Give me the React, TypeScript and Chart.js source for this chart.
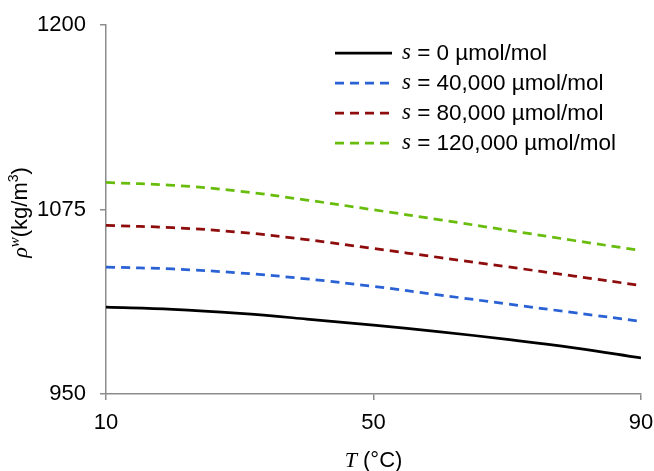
import React, { useEffect, useRef } from "react";
import { Chart, registerables } from "chart.js";

Chart.register(...registerables);

// Temperature grid (°C)
const temperatures = [10, 20, 30, 40, 50, 60, 70, 80, 90];

// Water density ρw (kg/m³) for each salinity s
const densityS0 = [1008.9, 1007.4, 1004.6, 1000.8, 996.6, 992.1, 987.0, 981.3, 974.4];
const densityS40k = [1036.0, 1034.7, 1032.0, 1028.0, 1022.9, 1017.0, 1011.0, 1005.1, 999.2];
const densityS80k = [1064.2, 1062.7, 1059.6, 1054.6, 1048.6, 1042.4, 1036.2, 1029.9, 1023.5];
const densityS120k = [1093.3, 1091.4, 1087.4, 1081.4, 1074.8, 1068.0, 1061.0, 1054.0, 1047.2];

const seriesLabels = ["0", "40,000", "80,000", "120,000"];
const seriesColors = ["#000000", "#2a62d6", "#8e0c0c", "#68bd0c"];
const seriesValues = [densityS0, densityS40k, densityS80k, densityS120k];

const xTicks = [10, 50, 90];
const yTicks = [950, 1075, 1200];

const SANS = "'Liberation Sans', Arial, sans-serif";
const SERIF = "'Liberation Serif', 'Times New Roman', serif";
const AXIS_GREY = "#8c8c8c";
const DASH = [9, 6];

type Piece = { text: string; font: string; dy?: number };

function drawPieces(ctx: CanvasRenderingContext2D, pieces: Piece[], cx: number, cy: number) {
  let total = 0;
  for (const p of pieces) {
    ctx.font = p.font;
    total += ctx.measureText(p.text).width;
  }
  let x = cx - total / 2;
  ctx.textBaseline = "middle";
  ctx.textAlign = "left";
  for (const p of pieces) {
    ctx.font = p.font;
    ctx.fillText(p.text, x, cy + (p.dy || 0));
    x += ctx.measureText(p.text).width;
  }
}

// Axis titles with mixed italic / superscript runs
const axisTitlesPlugin = {
  id: "axisTitles",
  afterDraw(chart: any) {
    const ctx: CanvasRenderingContext2D = chart.ctx;
    const area = chart.chartArea;
    ctx.save();
    ctx.fillStyle = "#000";
    // x title: T (°C)
    drawPieces(
      ctx,
      [
        { text: "T", font: `italic 22px ${SERIF}` },
        { text: " (°C)", font: `22px ${SANS}` },
      ],
      (area.left + area.right) / 2,
      461
    );
    // y title: ρw(kg/m³)
    ctx.translate(21, (area.top + area.bottom) / 2 + 3);
    ctx.rotate(-Math.PI / 2);
    drawPieces(
      ctx,
      [
        { text: "ρ", font: `italic 22px ${SERIF}` },
        { text: "w", font: `italic 15px ${SERIF}`, dy: -6 },
        { text: "(kg/m", font: `22px ${SANS}` },
        { text: "3", font: `14px ${SANS}`, dy: -7 },
        { text: ")", font: `22px ${SANS}` },
      ],
      0,
      0
    );
    ctx.restore();
  },
};

// Legend with line samples drawn in the plot area
const legendPlugin = {
  id: "inlineLegend",
  afterDatasetsDraw(chart: any) {
    const ctx: CanvasRenderingContext2D = chart.ctx;
    ctx.save();
    chart.data.datasets.forEach((ds: any, i: number) => {
      const y = 53 + i * 30;
      ctx.beginPath();
      ctx.strokeStyle = ds.borderColor;
      ctx.lineWidth = ds.borderWidth;
      ctx.setLineDash(ds.borderDash || []);
      ctx.moveTo(335, y);
      ctx.lineTo(392, y);
      ctx.stroke();
      ctx.setLineDash([]);
      ctx.fillStyle = "#000";
      ctx.textBaseline = "middle";
      ctx.textAlign = "left";
      let x = 402;
      ctx.font = `italic 23px ${SERIF}`;
      ctx.fillText("s", x, y);
      x += ctx.measureText("s").width;
      ctx.font = `22.5px ${SANS}`;
      ctx.fillText(` = ${seriesLabels[i]} µmol/mol`, x, y + 1);
    });
    ctx.restore();
  },
};

export default function App() {
  const canvasRef = useRef<HTMLCanvasElement | null>(null);

  useEffect(() => {
    if (!canvasRef.current) return;
    const chart = new Chart(canvasRef.current, {
      type: "line",
      data: {
        datasets: seriesValues.map((vals, i) => ({
          label: `s = ${seriesLabels[i]} µmol/mol`,
          data: temperatures.map((t, k) => ({ x: t, y: vals[k] })),
          borderColor: seriesColors[i],
          backgroundColor: seriesColors[i],
          borderWidth: 2.75,
          borderDash: i === 0 ? [] : DASH,
          pointRadius: 0,
          tension: 0.4,
          fill: false,
        })),
      },
      options: {
        animation: false,
        responsive: false,
        maintainAspectRatio: false,
        layout: { autoPadding: false, padding: { top: 25, right: 13, left: 0, bottom: 0 } },
        plugins: {
          legend: { display: false },
          tooltip: { enabled: false },
        },
        scales: {
          x: {
            type: "linear",
            min: 10,
            max: 90,
            afterBuildTicks: (scale: any) => {
              scale.ticks = xTicks.map((v) => ({ value: v }));
            },
            afterFit: (scale: any) => {
              scale.height = 77;
              scale.paddingLeft = 0;
              scale.paddingRight = 0;
            },
            grid: {
              drawOnChartArea: false,
              drawTicks: true,
              tickLength: 6,
              color: AXIS_GREY,
              lineWidth: 1.5,
            },
            border: { color: AXIS_GREY, width: 1.5 },
            ticks: {
              color: "#000",
              font: { family: SANS, size: 22 },
              padding: 10,
              maxRotation: 0,
              callback: (v: any) => String(v),
            },
          },
          y: {
            type: "linear",
            min: 950,
            max: 1200,
            afterBuildTicks: (scale: any) => {
              scale.ticks = yTicks.map((v) => ({ value: v }));
            },
            afterFit: (scale: any) => {
              scale.width = 106;
              scale.paddingTop = 0;
              scale.paddingBottom = 0;
            },
            grid: {
              drawOnChartArea: false,
              drawTicks: true,
              tickLength: 6,
              color: AXIS_GREY,
              lineWidth: 1.5,
            },
            border: { color: AXIS_GREY, width: 1.5 },
            ticks: {
              color: "#000",
              font: { family: SANS, size: 22 },
              padding: 14,
              callback: (v: any) => String(v),
            },
          },
        },
      },
      plugins: [legendPlugin, axisTitlesPlugin],
    });
    return () => chart.destroy();
  }, []);

  return (
    <div style={{ position: "fixed", left: 0, top: 0, width: 654, height: 471, background: "#fff" }}>
      <canvas ref={canvasRef} width={654} height={471} style={{ display: "block" }} />
    </div>
  );
}
